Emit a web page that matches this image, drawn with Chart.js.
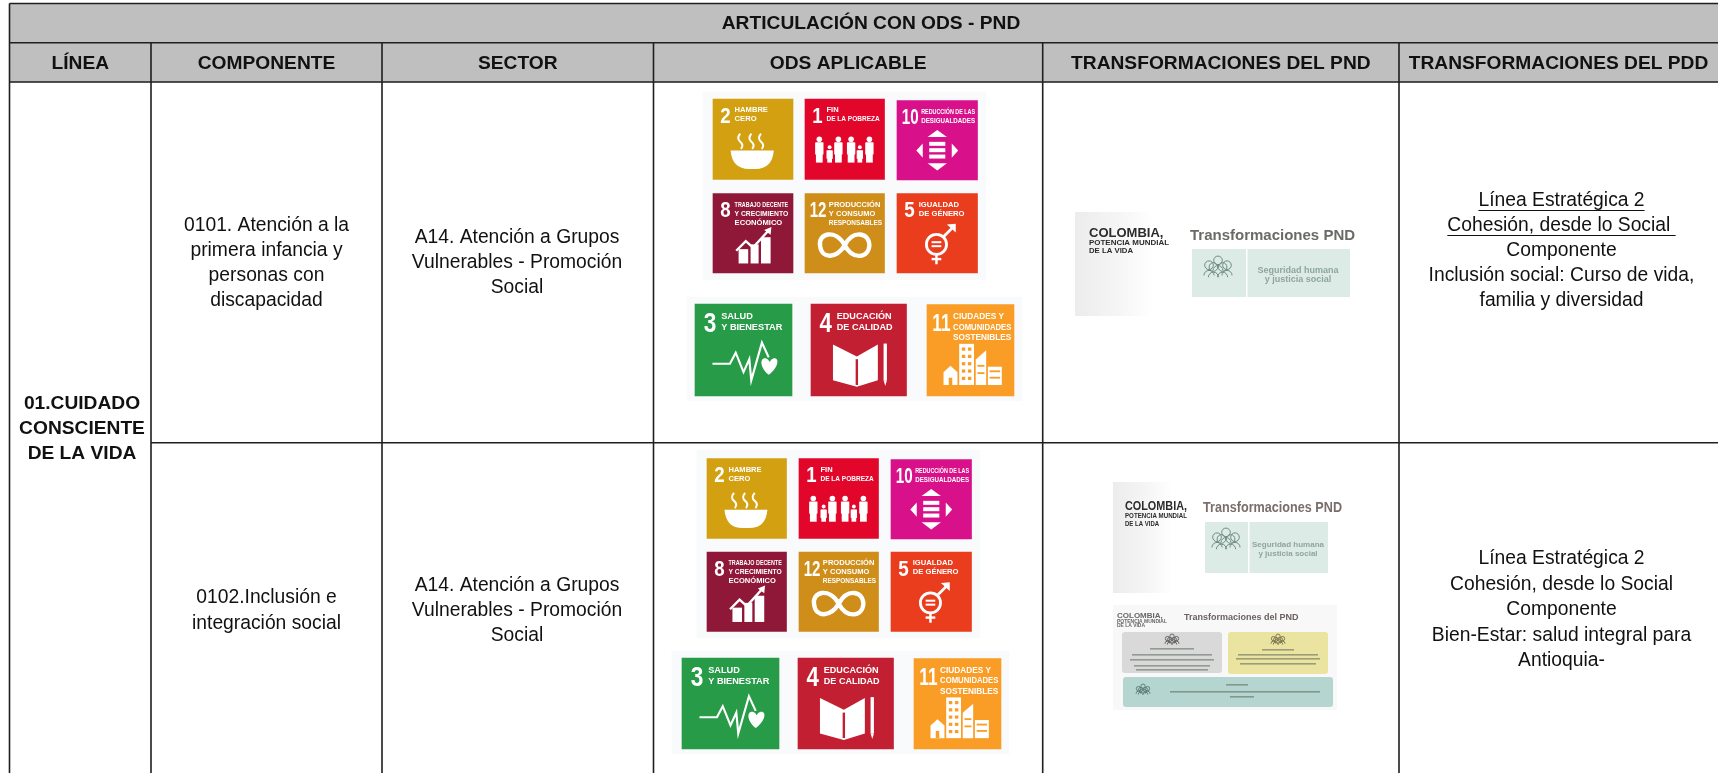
<!DOCTYPE html>
<html>
<head>
<meta charset="utf-8">
<style>
  html, body { margin: 0; padding: 0; background: #ffffff; overflow: hidden; }
  canvas { display: block; }
</style>
<script src="https://cdn.jsdelivr.net/npm/chart.js@4"></script>
</head>
<body>
<canvas id="odsChart" width="1718" height="773"></canvas>
<script>
// table content
const tableTitle = 'ARTICULACIÓN CON ODS - PND';
const headers = ['LÍNEA', 'COMPONENTE', 'SECTOR', 'ODS APLICABLE', 'TRANSFORMACIONES DEL PND', 'TRANSFORMACIONES DEL PDD'];
const lineName = ['01.CUIDADO', 'CONSCIENTE', 'DE LA VIDA'];
const components = [
  ['0101. Atención a la', 'primera infancia y', 'personas con', 'discapacidad'],
  ['0102.Inclusión e', 'integración social']
];
const sectors = [
  ['A14. Atención a Grupos', 'Vulnerables - Promoción', 'Social'],
  ['A14. Atención a Grupos', 'Vulnerables - Promoción', 'Social']
];
const pddLines = [
  ['Línea Estratégica 2', 'Cohesión, desde lo Social ', 'Componente', 'Inclusión social: Curso de vida,', 'familia y diversidad'],
  ['Línea Estratégica 2', 'Cohesión, desde lo Social', 'Componente', 'Bien-Estar: salud integral para', 'Antioquia-']
];
const odsOrder = [2, 1, 10, 8, 12, 5, 3, 4, 11];
const odsNames = {
  1: ['FIN', 'DE LA POBREZA'],
  2: ['HAMBRE', 'CERO'],
  3: ['SALUD', 'Y BIENESTAR'],
  4: ['EDUCACIÓN', 'DE CALIDAD'],
  5: ['IGUALDAD', 'DE GÉNERO'],
  8: ['TRABAJO DECENTE', 'Y CRECIMIENTO', 'ECONÓMICO'],
  10: ['REDUCCIÓN DE LAS', 'DESIGUALDADES'],
  11: ['CIUDADES Y', 'COMUNIDADES', 'SOSTENIBLES'],
  12: ['PRODUCCIÓN', 'Y CONSUMO', 'RESPONSABLES']
};

// styles and layout
const odsColors = { 1: '#e2062b', 2: '#d3a011', 3: '#279b48', 4: '#c31f33', 5: '#ea3d1e', 8: '#8f1838', 10: '#d8108a', 11: '#f99d26', 12: '#cf8d1a' };
const FONT = '"Liberation Sans", Arial, sans-serif';
const NARROW = '"Liberation Sans Narrow", "Liberation Sans", Arial, sans-serif';
const colX = [9.5, 151, 382, 653.5, 1042.7, 1399, 1718];
const rowY = [3.5, 42.7, 82, 442.7, 773];
const centers = { line: 82, comp: 266.5, sect: 517, pdd: 1561.5 };

// x range, y range of each tile, same order as odsOrder
const tileRows = [
  [[713, 793, 99, 179.5], [805, 884.5, 99, 179.5], [897, 977.5, 100.5, 180],
   [713, 793, 193.5, 273], [805, 884.5, 193.5, 273], [897, 977.5, 193.5, 273],
   [695, 792, 304, 396], [811, 906.5, 304, 396], [927, 1014, 304.5, 396]],
  [[707, 786.5, 458.5, 538.5], [799, 878.5, 458.5, 538.5], [891, 971.5, 459.5, 539],
   [707, 786.5, 552, 631.5], [799, 878.5, 552, 631.5], [891, 971.5, 552, 631.5],
   [682, 779, 658, 749], [798, 893.5, 658, 749], [914, 1001, 658.5, 749]]
];
const tilePanels = [
  [703, 986, 92, 280], [687, 1022, 297, 401],
  [697, 980, 450, 638], [672, 1009, 651, 754]
];

function rectSet(box, color) {
  return {
    type: 'bar',
    data: [{ x: (box[0] + box[1]) / 2, y: [box[2], box[3]] }],
    backgroundColor: color,
    barThickness: box[1] - box[0],
    grouped: false,
    borderWidth: 0
  };
}

const datasets = [];
tileRows.forEach(function (row) {
  row.forEach(function (box, i) {
    datasets.push(rectSet(box, odsColors[odsOrder[i]]));
  });
});
tilePanels.forEach(function (box) { datasets.push(rectSet(box, '#f9fafc')); });
datasets.push(rectSet([colX[0], colX[6], rowY[0], rowY[2]], '#bfbfbf'));

// small white pictograms, coordinates are 0-1 inside the tile
const icons = {
  2: function (c) {
    c.beginPath();
    c.moveTo(.22, .64); c.lineTo(.76, .64);
    c.quadraticCurveTo(.74, .87, .53, .87); c.lineTo(.45, .87);
    c.quadraticCurveTo(.24, .87, .22, .64); c.fill();
    c.lineWidth = .025;
    [.34, .48, .6].forEach(function (x) {
      c.beginPath(); c.moveTo(x, .43);
      c.quadraticCurveTo(x - .05, .49, x, .53);
      c.quadraticCurveTo(x + .05, .57, x + .01, .62); c.stroke();
    });
  },
  1: function (c) {
    [[.18, 1], [.31, .7], [.42, 1], [.58, 1], [.69, .7], [.81, 1]].forEach(function (p) {
      const h = .33 * p[1], top = .79 - h, w = .085 * p[1];
      c.beginPath(); c.arc(p[0], top + .04, .035 * p[1], 0, 7); c.fill();
      c.fillRect(p[0] - w / 2 - .01, top + .08, w + .02, h * .45);
      c.fillRect(p[0] - w / 2, top + .08, w, h - .08);
    });
  },
  10: function (c) {
    const tri = function (a, b, d, e, f, g) { c.beginPath(); c.moveTo(a, b); c.lineTo(d, e); c.lineTo(f, g); c.fill(); };
    tri(.5, .37, .38, .46, .62, .46);
    tri(.5, .88, .38, .79, .62, .79);
    tri(.24, .63, .32, .54, .32, .72);
    tri(.76, .63, .68, .54, .68, .72);
    c.fillRect(.4, .52, .2, .05);
    c.fillRect(.4, .6, .2, .05);
    c.fillRect(.4, .68, .2, .05);
  },
  8: function (c) {
    c.fillRect(.32, .7, .12, .18); c.fillRect(.47, .64, .1, .24); c.fillRect(.6, .55, .12, .33);
    c.lineWidth = .03;
    c.beginPath(); c.moveTo(.29, .72); c.lineTo(.41, .6); c.lineTo(.5, .68); c.lineTo(.7, .46); c.stroke();
    c.beginPath(); c.moveTo(.64, .46); c.lineTo(.73, .42); c.lineTo(.72, .52); c.fill();
  },
  12: function (c) {
    c.lineWidth = .055;
    c.beginPath();
    c.moveTo(.5, .65);
    c.bezierCurveTo(.38, .44, .16, .5, .19, .66);
    c.bezierCurveTo(.21, .83, .4, .82, .5, .65);
    c.bezierCurveTo(.6, .46, .8, .48, .81, .65);
    c.bezierCurveTo(.8, .82, .6, .84, .5, .65);
    c.stroke();
  },
  5: function (c) {
    c.lineWidth = .035;
    c.beginPath(); c.arc(.49, .64, .125, 0, 7); c.stroke();
    c.fillRect(.43, .6, .12, .025); c.fillRect(.43, .65, .12, .025);
    c.fillRect(.475, .76, .03, .13); c.fillRect(.43, .81, .12, .03);
    c.beginPath(); c.moveTo(.58, .54); c.lineTo(.7, .42); c.stroke();
    c.beginPath(); c.moveTo(.62, .39); c.lineTo(.73, .38); c.lineTo(.73, .49); c.fill();
  },
  3: function (c) {
    c.lineWidth = .022;
    c.beginPath();
    c.moveTo(.18, .65); c.lineTo(.36, .65); c.lineTo(.42, .53); c.lineTo(.5, .74);
    c.lineTo(.56, .6); c.lineTo(.58, .83); c.lineTo(.69, .42); c.lineTo(.76, .58);
    c.stroke();
    c.beginPath();
    c.moveTo(.76, .77);
    c.bezierCurveTo(.66, .68, .67, .58, .73, .59);
    c.quadraticCurveTo(.76, .6, .77, .63);
    c.quadraticCurveTo(.78, .6, .81, .59);
    c.bezierCurveTo(.87, .58, .87, .68, .76, .77);
    c.fill();
  },
  4: function (c) {
    c.lineWidth = .025;
    c.beginPath();
    c.moveTo(.48, .57); c.lineTo(.23, .44); c.lineTo(.23, .83); c.lineTo(.48, .9);
    c.lineTo(.7, .83); c.lineTo(.7, .44); c.closePath();
    c.fill();
    c.beginPath(); c.moveTo(.48, .6); c.lineTo(.48, .88); c.strokeStyle = odsColors[4]; c.stroke();
    c.strokeStyle = '#fff';
    c.fillRect(.76, .43, .035, .4);
    c.beginPath(); c.moveTo(.76, .83); c.lineTo(.795, .83); c.lineTo(.778, .89); c.fill();
  },
  11: function (c) {
    c.fillRect(.37, .43, .17, .45);
    c.beginPath(); c.moveTo(.56, .88); c.lineTo(.56, .6); c.lineTo(.68, .5); c.lineTo(.68, .88); c.fill();
    c.fillRect(.7, .68, .16, .2);
    c.beginPath(); c.moveTo(.19, .74); c.lineTo(.27, .67); c.lineTo(.35, .74); c.lineTo(.35, .88); c.lineTo(.19, .88); c.fill();
    c.fillStyle = odsColors[11];
    for (let r = 0; r < 5; r++) {
      c.fillRect(.4, .47 + r * .08, .04, .035);
      c.fillRect(.47, .47 + r * .08, .04, .035);
    }
    c.fillRect(.25, .8, .04, .08);
    c.fillRect(.72, .72, .12, .02); c.fillRect(.72, .79, .12, .02);
    c.fillRect(.58, .66, .08, .02); c.fillRect(.58, .74, .08, .02);
    c.fillStyle = '#fff';
  }
};

function drawTile(c, box, goal) {
  const w = box[1] - box[0], h = box[3] - box[2];
  c.save();
  c.translate(box[0], box[2]);
  // number and name use pixel fonts, scaled with the tile
  const big = w * 0.28;
  c.fillStyle = '#ffffff';
  c.textAlign = 'left';
  c.textBaseline = 'top';
  c.font = 'bold ' + big + 'px ' + NARROW;
  const numX = w * (goal > 9 ? 0.06 : 0.09);
  c.fillText(String(goal), numX, h * 0.08, goal > 9 ? w * 0.21 : w * 0.13);
  const nameX = w * (goal > 9 ? 0.3 : 0.27);
  const names = odsNames[goal];
  c.font = 'bold ' + (w * 0.095) + 'px ' + NARROW;
  names.forEach(function (s, i) {
    c.fillText(s, nameX, h * (0.09 + i * 0.115), w * 0.67);
  });
  c.scale(w, h);
  c.fillStyle = '#ffffff';
  c.strokeStyle = '#ffffff';
  icons[goal](c);
  c.restore();
}

function lineLabel(c, text, cx, cy, font, color) {
  c.font = font;
  c.fillStyle = color;
  c.textAlign = 'center';
  c.textBaseline = 'middle';
  c.fillText(text, cx, cy);
}

function peopleIcon(c, cx, cy, r, color) {
  c.strokeStyle = color;
  c.lineWidth = 1;
  [[-.75, .1], [0, -.3], [.75, .1], [-.38, .25], [.38, .25]].forEach(function (p) {
    c.beginPath(); c.arc(cx + p[0] * r, cy + p[1] * r, r * .36, 0, 7); c.stroke();
    c.beginPath(); c.arc(cx + p[0] * r, cy + p[1] * r + r * .85, r * .42, Math.PI, 0); c.stroke();
  });
}

function pndHeader(c, o) {
  const grad = c.createLinearGradient(o.px, 0, o.px + o.pw, 0);
  grad.addColorStop(0, '#ececec');
  grad.addColorStop(0.55, '#f5f5f5');
  grad.addColorStop(1, '#ffffff');
  c.fillStyle = grad;
  c.fillRect(o.px, o.py, o.pw, o.ph);
  c.textAlign = 'left';
  c.textBaseline = 'middle';
  c.fillStyle = '#2b2b2b';
  c.font = 'bold 13px ' + FONT;
  c.fillText('COLOMBIA,', o.lx, o.ly, o.lw);
  c.font = 'bold 8px ' + FONT;
  c.fillText('POTENCIA MUNDIAL', o.lx, o.ly + o.gap, o.lw);
  c.fillText('DE LA VIDA', o.lx, o.ly + o.gap + 8, o.lw * .55);
  c.fillStyle = o.titleColor;
  c.font = 'bold 15px ' + FONT;
  c.fillText('Transformaciones PND', o.tx, o.ty, o.tw);
  c.fillStyle = '#dcebe6';
  c.fillRect(o.bx, o.by, o.bw, o.bh);
  c.fillStyle = '#ffffff';
  c.fillRect(o.dx, o.by, 1.5, o.bh);
  peopleIcon(c, o.ix, o.iy, o.ir, '#6f8a82');
  lineLabel(c, 'Seguridad humana', o.sx, o.sy, o.sf, '#8fa59f');
  lineLabel(c, 'y justicia social', o.sx, o.sy + o.ss, o.sf, '#8fa59f');
}

function pndSecond(c) {
  c.fillStyle = '#f8f8f8';
  c.fillRect(1113, 605, 224, 105);
  c.fillStyle = '#666666';
  c.textAlign = 'left';
  c.textBaseline = 'middle';
  c.font = 'bold 8px ' + FONT;
  c.fillText('COLOMBIA,', 1117, 616, 55);
  c.font = 'bold 5px ' + FONT;
  c.fillText('POTENCIA MUNDIAL', 1117, 622, 50);
  c.fillText('DE LA VIDA', 1117, 626, 28);
  c.fillStyle = '#6d6060';
  c.font = 'bold 9px ' + FONT;
  c.fillText('Transformaciones del PND', 1184, 618, 141);
  [[1122, 632, 100, 41, '#d9d9d9'], [1228, 632, 100, 42, '#ebe3a0'], [1123, 677, 210, 30, '#b5d6d0']].forEach(function (b) {
    c.fillStyle = b[4];
    c.beginPath();
    c.roundRect(b[0], b[1], b[2], b[3], 3);
    c.fill();
  });
  // the small captions of these boxes are unreadable smudges in the picture
  c.fillStyle = 'rgba(90,100,90,.55)';
  [[1150, 648, 44], [1132, 654, 80], [1130, 659, 84], [1134, 665, 76], [1136, 669, 72],
   [1262, 649, 32], [1238, 654, 80], [1236, 658, 84], [1240, 663, 76],
   [1226, 684, 22], [1170, 691, 150], [1230, 696, 24]].forEach(function (b) {
    c.fillRect(b[0], b[1], b[2], 1.6);
  });
  peopleIcon(c, 1172, 638, 6, '#666666');
  peopleIcon(c, 1278, 638, 6, '#7d7a50');
  peopleIcon(c, 1143, 688, 6, '#5f807a');
}

const tablePlugin = {
  id: 'tablePlugin',
  beforeDatasetsDraw: function (chart) {
    const c = chart.ctx;
    c.save();
    c.filter = 'blur(0.6px)';
    pndHeader(c, { px: 1075, py: 212, pw: 78, ph: 104, lx: 1089, ly: 233, lw: 80, gap: 10, titleColor: '#6b6b66',
      tx: 1190, ty: 236, tw: 176, bx: 1192, by: 249, bw: 158, bh: 48, dx: 1246, ix: 1218, iy: 264, ir: 12,
      sx: 1298, sy: 271, sf: 'bold 9px ' + FONT, ss: 8.5 });
    pndHeader(c, { px: 1113, py: 482, pw: 60, ph: 111, lx: 1125, ly: 506, lw: 62, gap: 10, titleColor: '#7a6e6a',
      tx: 1203, ty: 508, tw: 139, bx: 1205, by: 522, bw: 123, bh: 51, dx: 1248, ix: 1226, iy: 536, ir: 12,
      sx: 1288, sy: 545, sf: 'bold 8px ' + FONT, ss: 9 });
    pndSecond(c);
    c.restore();
  },
  afterDatasetsDraw: function (chart) {
    const c = chart.ctx;
    const xs = chart.scales.x, ys = chart.scales.y;
    const px = function (v) { return xs.getPixelForValue(v); };
    const py = function (v) { return ys.getPixelForValue(v); };
    c.save();

    c.filter = 'blur(0.5px)';
    tileRows.forEach(function (row) {
      row.forEach(function (box, i) {
        drawTile(c, [px(box[0]), px(box[1]), py(box[2]), py(box[3])], odsOrder[i]);
      });
    });
    c.filter = 'none';

    // grid
    c.strokeStyle = '#1f1f1f';
    c.lineWidth = 1.6;
    c.beginPath();
    c.moveTo(px(colX[0]), py(rowY[0])); c.lineTo(px(colX[6]), py(rowY[0]));
    c.moveTo(px(colX[0]), py(rowY[1])); c.lineTo(px(colX[6]), py(rowY[1]));
    c.moveTo(px(colX[0]), py(rowY[2])); c.lineTo(px(colX[6]), py(rowY[2]));
    c.moveTo(px(colX[1]), py(rowY[3])); c.lineTo(px(colX[6]), py(rowY[3]));
    c.moveTo(px(colX[0]), py(rowY[0])); c.lineTo(px(colX[0]), py(rowY[4]));
    for (let i = 1; i < 6; i++) {
      c.moveTo(px(colX[i]), py(rowY[1])); c.lineTo(px(colX[i]), py(rowY[4]));
    }
    c.stroke();

    // title and column heads
    const bold = 'bold 19.2px ' + FONT, normal = '19.3px ' + FONT, ink = '#111111';
    lineLabel(c, tableTitle, px(871), py(24), bold, ink);
    headers.forEach(function (h, i) {
      lineLabel(c, h, px((colX[i] + colX[i + 1]) / 2), py(63.5), bold, ink);
    });
    lineName.forEach(function (s, i) {
      lineLabel(c, s, px(centers.line), py(404 + i * 25), bold, ink);
    });

    // body cells, one block per row
    const stack = function (lines, cx, firstY, step) {
      lines.forEach(function (s, i) {
        lineLabel(c, s, px(cx), py(firstY + i * step), normal, ink);
      });
    };
    stack(components[0], centers.comp, 226, 25);
    stack(components[1], centers.comp, 598, 25.5);
    stack(sectors[0], centers.sect, 238, 25);
    stack(sectors[1], centers.sect, 586, 25);
    stack(pddLines[0], centers.pdd, 201, 25);
    stack(pddLines[1], centers.pdd, 559, 25.5);

    // first two PDD lines of row one are underlined
    c.strokeStyle = ink;
    c.lineWidth = 1.2;
    c.font = normal;
    [0, 1].forEach(function (i) {
      const w = c.measureText(pddLines[0][i]).width;
      const y = py(201 + i * 25 + 9.5);
      c.beginPath();
      c.moveTo(px(centers.pdd) - w / 2, y);
      c.lineTo(px(centers.pdd) + w / 2, y);
      c.stroke();
    });
    c.restore();
  }
};

new Chart(document.getElementById('odsChart').getContext('2d'), {
  type: 'bar',
  data: { datasets: datasets },
  options: {
    responsive: false,
    animation: false,
    devicePixelRatio: 1,
    layout: { padding: 0 },
    plugins: { legend: { display: false }, title: { display: false }, tooltip: { enabled: false } },
    scales: {
      x: { type: 'linear', min: 0, max: 1718, display: false, offset: false },
      y: { type: 'linear', min: 0, max: 773, reverse: true, display: false }
    }
  },
  plugins: [tablePlugin]
});
</script>
</body>
</html>
